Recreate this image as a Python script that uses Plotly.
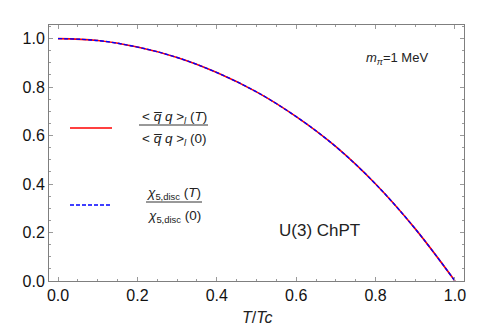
import plotly.graph_objects as go

# Data
t_over_tc = [0.0, 0.1, 0.2, 0.3, 0.4, 0.5, 0.6, 0.7, 0.8, 0.9, 1.0]
condensate_ratio = [1.0, 0.992, 0.965, 0.922, 0.86, 0.78, 0.678, 0.554, 0.40, 0.215, 0.0]
chi5_ratio = [1.0, 0.992, 0.965, 0.922, 0.86, 0.78, 0.678, 0.554, 0.40, 0.215, 0.0]
x_ticks = [0.0, 0.2, 0.4, 0.6, 0.8, 1.0]
y_ticks = [0.0, 0.2, 0.4, 0.6, 0.8, 1.0]

FONT = "Liberation Sans, Arial, sans-serif"
W, H = 491, 328
L, R, T, B = 49, 27, 25, 47
PW, PH = W - L - R, H - T - B

def px(x):
    return (x - L) / PW

def py(y):
    return (H - B - y) / PH

fig = go.Figure()
fig.add_trace(go.Scatter(x=t_over_tc, y=condensate_ratio, mode="lines",
                         line=dict(color="#ff0000", width=1.6, shape="spline"),
                         showlegend=False, hoverinfo="skip"))
fig.add_trace(go.Scatter(x=t_over_tc, y=chi5_ratio, mode="lines",
                         line=dict(color="#0000ff", width=1.4, dash="4px,2px", shape="spline"),
                         showlegend=False, hoverinfo="skip"))

axis_common = dict(
    showgrid=False, zeroline=False, showline=True, linecolor="#7f7f7f", linewidth=1,
    mirror="allticks", ticks="inside", ticklen=4, tickcolor="#9a9a9a", tickwidth=1,
    tickfont=dict(family=FONT, size=16, color="#111111"),
    tickformat=".1f", automargin=False,
)

fig.update_xaxes(range=[-0.0227, 1.0227], tickvals=x_ticks, **axis_common,
                 minor=dict(dtick=0.05, tick0=0, ticks="inside", ticklen=2, tickcolor="#9a9a9a"))
fig.update_yaxes(range=[0, 1.056], tickvals=y_ticks, **axis_common,
                 minor=dict(dtick=0.05, tick0=0, ticks="inside", ticklen=2, tickcolor="#9a9a9a"))

shapes = []
# legend sample lines
shapes.append(dict(type="line", xref="paper", yref="paper", x0=px(70), x1=px(112), y0=py(128), y1=py(128),
                   line=dict(color="#ff0000", width=1.5)))
shapes.append(dict(type="line", xref="paper", yref="paper", x0=px(70), x1=px(110), y0=py(205), y1=py(205),
                   line=dict(color="#0000ff", width=1.3, dash="4px,2px")))
# fraction bars
shapes.append(dict(type="line", xref="paper", yref="paper", x0=px(139), x1=px(208), y0=py(125), y1=py(125),
                   line=dict(color="#333333", width=1)))
shapes.append(dict(type="line", xref="paper", yref="paper", x0=px(146), x1=px(202), y0=py(202), y1=py(202),
                   line=dict(color="#333333", width=1)))
fig.update_layout(shapes=shapes)

qbar = "<i>q\u0305</i>"
ann = []
def add(text, x, y, size=13):
    ann.append(dict(text=text, xref="paper", yref="paper", x=px(x), y=py(y), showarrow=False,
                    xanchor="center", yanchor="middle", font=dict(family=FONT, size=size, color="#222222")))

add(f"&lt; {qbar} <i>q</i> &gt;<sub><i>l</i></sub> (<i>T</i>)", 174, 117, 13.5)
add(f"&lt; {qbar} <i>q</i> &gt;<sub><i>l</i></sub> (0)", 174, 139, 13.5)
add("<i>χ</i><sub>5,disc</sub> (<i>T</i>)", 174, 193, 13.5)
add("<i>χ</i><sub>5,disc</sub> (0)", 174, 216, 13.5)
add("<i>m</i><sub><i>π</i></sub>=1 MeV", 397, 58, 13)
add("U(3) ChPT", 319, 230, 17)
# x-axis title
add("<i>T</i>/<i>Tc</i>", 257, 317, 16)
fig.update_layout(annotations=ann)

fig.update_layout(
    width=W, height=H,
    margin=dict(l=L, r=R, t=T, b=B),
    paper_bgcolor="white", plot_bgcolor="white",
    showlegend=False,
)

fig.write_html("out.html", config={"displayModeBar": False},
               post_script="document.body.style.margin='0';")
